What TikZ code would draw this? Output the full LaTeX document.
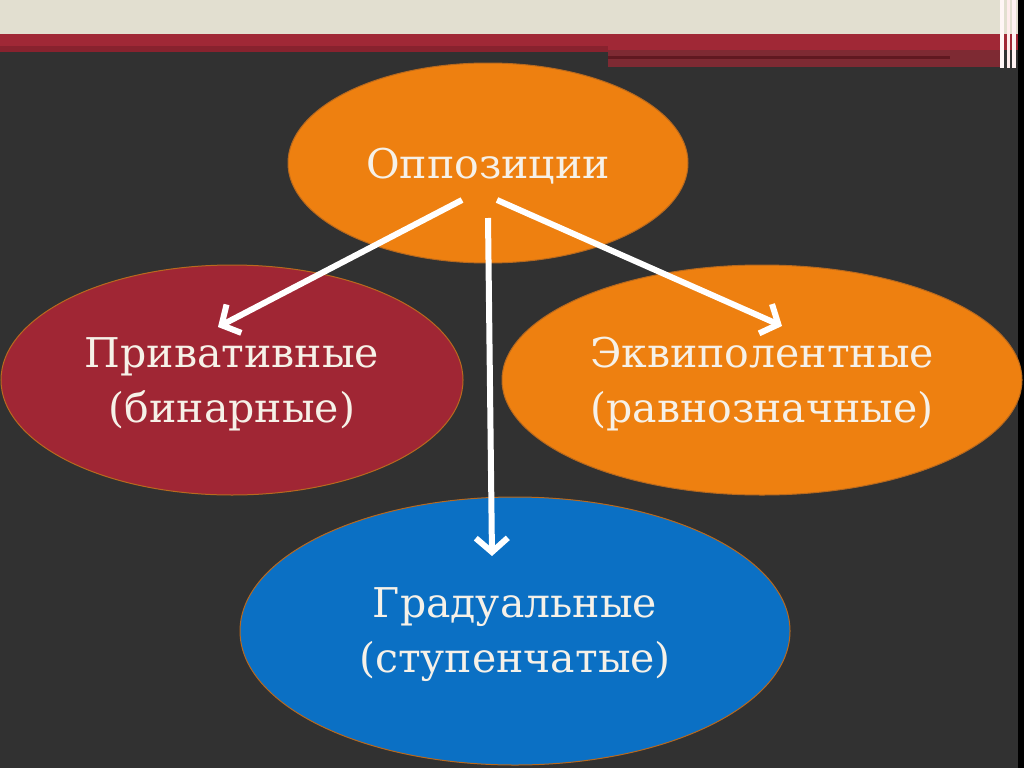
\documentclass[tikz,border=0pt]{standalone}
\usepackage{fontspec}
\setmainfont{DejaVu Serif}
\usetikzlibrary{shapes.geometric,arrows.meta}
\definecolor{bgdark}{HTML}{313131}
\definecolor{beige}{HTML}{E2DFD0}
\definecolor{bandred}{HTML}{A02836}
\definecolor{banddark}{HTML}{7E2A33}
\definecolor{ora}{HTML}{EE8010}
\definecolor{redf}{HTML}{A02634}
\definecolor{bluef}{HTML}{0B70C4}
\definecolor{rim}{HTML}{B8691E}
\definecolor{txt}{HTML}{F6F1E8}
\tikzset{
  oval/.style={ellipse, draw=rim, line width=1pt, inner sep=0pt, text=txt, align=center,
    font=\fontsize{41}{55}\selectfont},
  link/.style={draw=white, line width=6pt, -{Straight Barb[length=14pt,width=32pt]}}
}
\begin{document}
\begin{tikzpicture}[x=1pt,y=-1pt]
\useasboundingbox (0,0) rectangle (1024,768);
\fill[bgdark] (0,0) rectangle (1024,768);
\fill[beige] (0,0) rectangle (1018,34);
\fill[bandred] (0,34) rectangle (1018,50);
\fill[bandred!85!black] (0,46) rectangle (608,52);
\fill[banddark] (608,50) rectangle (1000,67);
\fill[bandred!60!black] (608,56) rectangle (950,59);
\fill[white!85!pink] (1000,0) rectangle (1004,68);
\fill[white!70!pink] (1007,0) rectangle (1010,68);
\fill[white!80!pink] (1012,0) rectangle (1016,68);
\fill[black] (1018,0) rectangle (1024,768);

\node[oval, fill=ora, minimum width=400pt, minimum height=200pt] (top) at (488,163) {};
\node[text=txt, font=\fontsize{41}{55}\selectfont] (toptext) at (488,166) {Оппозиции};
\node[oval, fill=redf, minimum width=462pt, minimum height=230pt] (left) at (232,380) {};
\node[text=txt, align=center, font=\fontsize{41}{55}\selectfont] (lefttext) at (232,384) {Привативные\\(бинарные)};
\node[oval, fill=ora, minimum width=520pt, minimum height=230pt] (right) at (762,380) {};
\node[text=txt, align=center, font=\fontsize{41}{55}\selectfont] (righttext) at (762,384) {Эквиполентные\\(равнозначные)};
\node[oval, fill=bluef, minimum width=550pt, minimum height=268pt] (bot) at (515,631) {};
\node[text=txt, align=center, font=\fontsize{41}{55}\selectfont] (bottext) at (515,635) {Градуальные\\(ступенчатые)};

\coordinate (s1) at (462,200);
\coordinate (e1) at (218,327);
\coordinate (s2) at (488,218);
\coordinate (e2) at (492,556);
\coordinate (s3) at (497,200);
\coordinate (e3) at (782,326);
\draw[link] (s1) -- (e1);
\draw[link] (s2) -- (e2);
\draw[link] (s3) -- (e3);
\end{tikzpicture}
\end{document}
